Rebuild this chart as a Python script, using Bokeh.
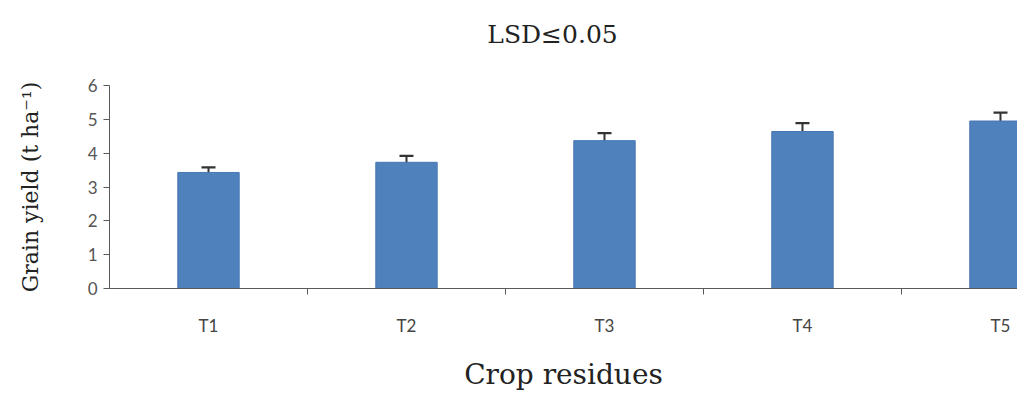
from bokeh.plotting import figure
from bokeh.models import ColumnDataSource, Whisker, Range1d, FixedTicker, TeeHead
from bokeh.embed import file_html
from bokeh.resources import INLINE

treatments = ["T1", "T2", "T3", "T4", "T5"]
grain_yield = [3.43, 3.73, 4.37, 4.64, 4.95]
errors = [0.15, 0.19, 0.22, 0.25, 0.25]
y_ticks = [0, 1, 2, 3, 4, 5, 6]

xs = [i + 0.5 for i in range(len(treatments))]
src = ColumnDataSource(dict(
    x=xs, top=grain_yield,
    upper=[v + e for v, e in zip(grain_yield, errors)],
    lower=[v - e for v, e in zip(grain_yield, errors)],
))

p = figure(width=1017, height=405, output_backend="svg", toolbar_location=None,
           x_range=Range1d(0, 4.586), y_range=Range1d(0, 6),
           min_border_left=109, min_border_right=0, min_border_top=85, min_border_bottom=117,
           title="LSD≤0.05")
p.outline_line_color = None
p.xgrid.visible = False
p.ygrid.visible = False

p.title.align = "center"
p.title.text_font = "DejaVu Serif"
p.title.text_font_size = "25px"
p.title.text_font_style = "normal"
p.title.text_color = "#222222"
p.title.standoff = 30
p.title.padding = dict(top=0, bottom=22, left=0, right=22)

p.vbar(x="x", top="top", width=0.31, source=src, fill_color="#4F81BD",
       line_color="#4677B4", line_width=1)

w = Whisker(base="x", upper="upper", lower="lower", source=src,
            line_color="#333333", line_width=2)
w.upper_head = TeeHead(size=14, line_color="#333333", line_width=2.2)
w.lower_head = TeeHead(size=14, line_color="#333333", line_width=1.6)
p.add_layout(w)

axis_col = "#5a5a5a"
# y axis
p.yaxis.ticker = FixedTicker(ticks=y_ticks)
p.yaxis.axis_line_color = axis_col
p.yaxis.major_tick_line_color = axis_col
p.yaxis.major_tick_out = 6
p.yaxis.major_tick_in = 0
p.yaxis.minor_tick_line_color = None
p.yaxis.major_label_text_font = "Lato"
p.yaxis.major_label_text_font_size = "17px"
p.yaxis.major_label_text_color = "#555555"
p.yaxis.major_label_standoff = 6
p.yaxis.axis_label = "Grain yield (t ha⁻¹)"
p.yaxis.axis_label_text_font = "DejaVu Serif"
p.yaxis.axis_label_text_font_size = "22px"
p.yaxis.axis_label_text_font_style = "normal"
p.yaxis.axis_label_text_color = "#222222"
p.yaxis.axis_label_standoff = 42

# x axis
p.xaxis.ticker = FixedTicker(ticks=xs, minor_ticks=[1, 2, 3, 4])
p.xaxis.major_label_overrides = {x: t for x, t in zip(xs, treatments)}
p.xaxis.axis_line_color = axis_col
p.xaxis.major_tick_line_color = None
p.xaxis.major_tick_out = 0
p.xaxis.major_tick_in = 0
p.xaxis.minor_tick_line_color = axis_col
p.xaxis.minor_tick_out = 6
p.xaxis.minor_tick_in = 0
p.xaxis.major_label_text_font = "Lato"
p.xaxis.major_label_text_font_size = "17px"
p.xaxis.major_label_text_color = "#444444"
p.xaxis.major_label_standoff = 20
p.xaxis.axis_label = "Crop residues"
p.xaxis.axis_label_text_font = "DejaVu Serif"
p.xaxis.axis_label_text_font_size = "28px"
p.xaxis.axis_label_text_font_style = "normal"
p.xaxis.axis_label_text_color = "#222222"
p.xaxis.axis_label_standoff = 19

open("out.html", "w").write(file_html(p, INLINE))
